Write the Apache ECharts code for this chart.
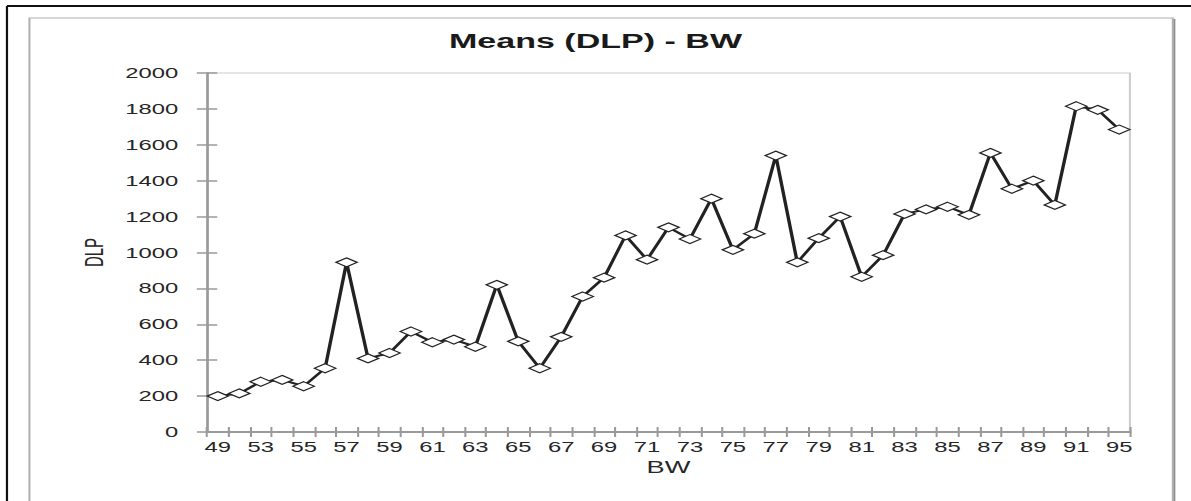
<!DOCTYPE html>
<html>
<head>
<meta charset="utf-8">
<title>Means (DLP) - BW</title>
<script src="https://cdn.jsdelivr.net/npm/echarts@6/dist/echarts.min.js"></script>
<style>
  html, body { margin: 0; padding: 0; background: #ffffff; }
  #wrap { width: 1191px; height: 501px; overflow: hidden; position: relative; }
  /* the chart is laid out narrow and widened horizontally, like the exported sheet */
  #chart { width: 700px; height: 501px; transform-origin: 0 0; transform: scaleX(1.70143); }
</style>
</head>
<body>
<div id="wrap"><div id="chart"></div></div>
<script>
// body weight classes (x axis)
const bwCategories = ['49', '51', '53', '54', '55', '56', '57', '58', '59', '60',
  '61', '62', '63', '64', '65', '66', '67', '68', '69', '70',
  '71', '72', '73', '74', '75', '76', '77', '78', '79', '80',
  '81', '82', '83', '84', '85', '86', '87', '88', '89', '90',
  '91', '93', '95'];

// mean DLP for each class
const dlpMeans = [200, 215, 280, 290, 255, 355, 945, 410, 440, 560,
  500, 515, 475, 820, 505, 355, 530, 755, 860, 1095,
  960, 1140, 1075, 1300, 1015, 1105, 1540, 945, 1080, 1200,
  865, 985, 1215, 1240, 1255, 1210, 1555, 1355, 1400, 1265,
  1815, 1795, 1685];

// value axis range
const yMin = 0;
const yMax = 2000;
const yStep = 200;

const chartTitle = 'Means (DLP) - BW';
const xName = 'BW';
const yName = 'DLP';

const FONT = '"Liberation Sans", Arial, sans-serif';
const AXIS_GRAY = '#9a9a9a';
const TEXT = '#262626';

const chart = echarts.init(document.getElementById('chart'), null, { renderer: 'svg' });

const H = 501;
const W = 700;

chart.setOption({
  backgroundColor: '#ffffff',
  animation: false,
  title: {
    text: chartTitle,
    left: 'center',
    top: 26,
    textStyle: { fontFamily: FONT, fontWeight: 'bold', fontSize: 20, color: '#1a1a1a' }
  },
  graphic: [
    // outer frame (top and left edges)
    { type: 'line', silent: true, shape: { x1: 4.1, y1: 6, x2: W, y2: 6 }, style: { stroke: '#111', lineWidth: 2 } },
    { type: 'line', silent: true, shape: { x1: 4.1, y1: 6, x2: 4.1, y2: H }, style: { stroke: '#111', lineWidth: 1.3 } },
    // chart area border with its shadow on the right
    { type: 'rect', silent: true, shape: { x: 17.3, y: 18, width: 672, height: 520 }, style: { fill: 'none', stroke: '#b0b0b0', lineWidth: 1.2 } },
    { type: 'line', silent: true, shape: { x1: 690.3, y1: 19, x2: 690.3, y2: H }, style: { stroke: '#8c8c8c', lineWidth: 1 } }
  ],
  grid: {
    left: 121.7,
    right: 35.9,
    top: 73,
    bottom: 69,
    show: true,
    borderColor: '#cccccc',
    borderWidth: 1.2,
    backgroundColor: '#ffffff'
  },
  xAxis: [
    {
      type: 'category',
      data: bwCategories,
      boundaryGap: true,
      name: xName,
      nameLocation: 'middle',
      nameGap: 28,
      nameTextStyle: { fontFamily: FONT, fontSize: 16, color: TEXT },
      axisLine: { lineStyle: { color: AXIS_GRAY, width: 2 } },
      axisTick: { show: true, interval: 0, inside: false, length: 5, lineStyle: { color: AXIS_GRAY, width: 1.2 } },
      axisLabel: { interval: 1, margin: 8, fontFamily: FONT, fontSize: 14, color: TEXT },
      splitLine: { show: false }
    },
    {
      // inner half of the crossing ticks
      type: 'category',
      data: bwCategories,
      boundaryGap: true,
      position: 'bottom',
      axisLine: { show: false },
      axisTick: { show: true, interval: 0, inside: true, length: 5, lineStyle: { color: AXIS_GRAY, width: 1.2 } },
      axisLabel: { show: false },
      splitLine: { show: false }
    }
  ],
  yAxis: [
    {
      type: 'value',
      min: yMin,
      max: yMax,
      interval: yStep,
      name: yName,
      nameLocation: 'middle',
      nameRotate: 90,
      nameGap: 53,
      nameTextStyle: { fontFamily: FONT, fontSize: 15, color: TEXT },
      axisLine: { show: true, lineStyle: { color: AXIS_GRAY, width: 1.5 } },
      axisTick: { show: true, inside: false, length: 6, lineStyle: { color: AXIS_GRAY, width: 1.5 } },
      axisLabel: { margin: 17, fontFamily: FONT, fontSize: 14, color: TEXT, formatter: (v) => String(v) },
      splitLine: { show: false }
    },
    {
      // inner half of the crossing ticks
      type: 'value',
      min: yMin,
      max: yMax,
      interval: yStep,
      position: 'left',
      axisLine: { show: false },
      axisTick: { show: true, inside: true, length: 6, lineStyle: { color: AXIS_GRAY, width: 1.5 } },
      axisLabel: { show: false },
      splitLine: { show: false }
    }
  ],
  series: [
    {
      type: 'line',
      name: yName,
      xAxisIndex: 0,
      yAxisIndex: 0,
      data: dlpMeans,
      symbol: 'diamond',
      symbolSize: [12.5, 9],
      showAllSymbol: true,
      lineStyle: { color: '#222222', width: 2 },
      itemStyle: { color: '#ffffff', borderColor: '#222222', borderWidth: 1.1 },
      emphasis: { disabled: true },
      z: 3
    }
  ]
});
</script>
</body>
</html>
